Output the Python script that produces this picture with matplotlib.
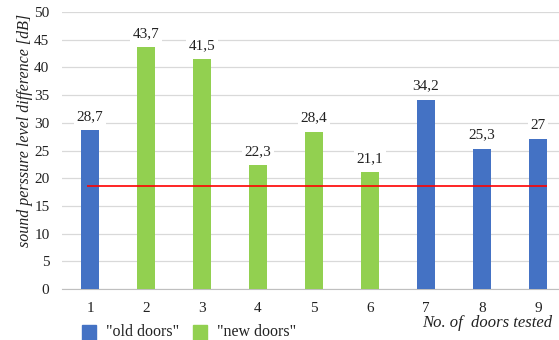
import matplotlib
matplotlib.use("Agg")
import matplotlib.pyplot as plt
from matplotlib.patches import Rectangle

doors = ["1", "2", "3", "4", "5", "6", "7", "8", "9"]
values = [28.7, 43.7, 41.5, 22.3, 28.4, 21.1, 34.2, 25.3, 27.0]
door_type = ["old", "new", "new", "new", "new", "new", "old", "old", "old"]
labels = ["28,7", "43,7", "41,5", "22,3", "28,4", "21,1", "34,2", "25,3", "27"]
threshold = 18.6

colors = {"old": "#4472C4", "new": "#92D050"}

plt.rcParams['font.family'] = ['Liberation Serif', 'DejaVu Serif']
FS = 11

fig = plt.figure(figsize=(5.59, 3.4), dpi=100)
W, H = 559, 340
x0, x1 = 62, 566
y0, y1 = 289, 12
ax = fig.add_axes([x0 / W, 1 - y0 / H, (x1 - x0) / W, (y0 - y1) / H])

xs = list(range(1, len(doors) + 1))
ax.bar(xs, values, width=0.31, color=[colors[t] for t in door_type], zorder=3)
for x, v, l in zip(xs, values, labels):
    ax.text(x, v + 1.3, l, ha='center', va='bottom', fontsize=FS, color='#222222',
            bbox=dict(facecolor='white', edgecolor='none', pad=1.5), zorder=4)

ax.hlines(threshold, 0.95, 9.16, color='#FF0000', linewidth=1.2, zorder=5)

ax.set_xlim(0.5, 9.5)
ax.set_ylim(0, 50)
ax.set_yticks(range(0, 51, 5))
ax.set_xticks(xs)
ax.set_xticklabels(doors)
ax.yaxis.grid(True, color='#D9D9D9', linewidth=0.9, zorder=0)
ax.set_axisbelow(True)
for s in ['left', 'right', 'top']:
    ax.spines[s].set_visible(False)
ax.spines['bottom'].set_color('#BFBFBF')
ax.tick_params(axis='both', length=0, labelsize=FS, colors='#222222')
ax.tick_params(axis='x', pad=9)
ax.tick_params(axis='y', pad=9)

fig.text(25 / W, 1 - 130 / H, "sound perssure level difference [dB]", rotation=90,
         style='italic', fontsize=11.5, ha='center', va='center', color='#222222')
fig.text(552 / W, 1 - 323 / H, "No. of  doors tested", style='italic', fontsize=12,
         ha='right', va='center', color='#222222')

for (px, txt, c) in [(82, '"old doors"', colors["old"]), (193, '"new doors"', colors["new"])]:
    fig.patches.append(Rectangle((px / W, 1 - 340 / H), 14 / W, 15 / H,
                                 transform=fig.transFigure, color=c))
    fig.text((px + 24) / W, 1 - 332 / H, txt, fontsize=11.5, ha='left', va='center', color='#222222')

fig.savefig("out.png", dpi=100)
